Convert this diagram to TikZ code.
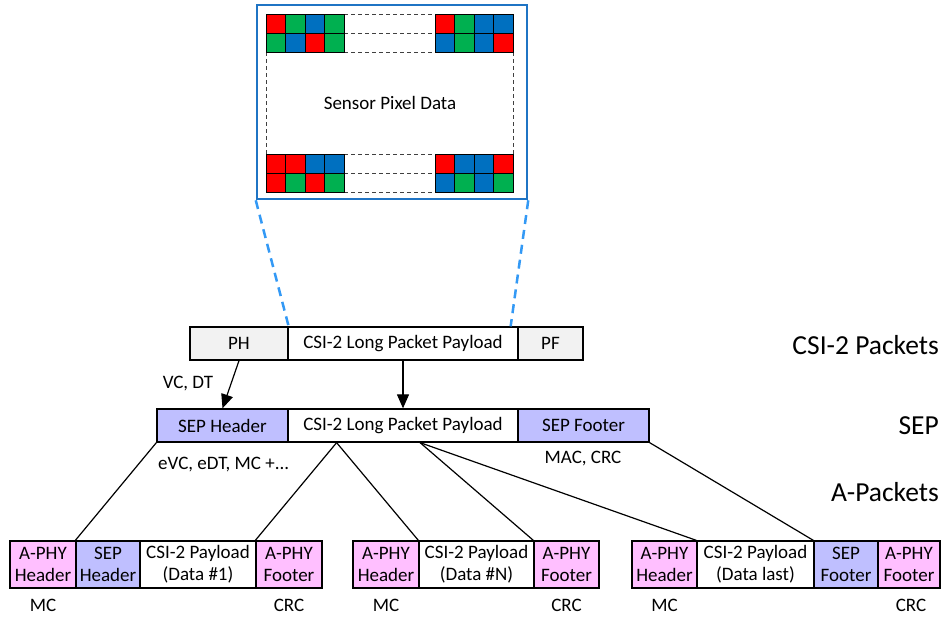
\documentclass[tikz,border=0pt]{standalone}
\usepackage{fontspec}
\setmainfont{Carlito}
\usetikzlibrary{arrows.meta,calc}
\definecolor{pxred}{HTML}{FF0000}
\definecolor{pxgreen}{HTML}{00B050}
\definecolor{pxblue}{HTML}{0070C0}
\definecolor{framec}{HTML}{1F74C4}
\definecolor{zoomc}{HTML}{3399F5}
\definecolor{greyc}{HTML}{F2F2F2}
\definecolor{sepc}{HTML}{BFBFFF}
\definecolor{aphyc}{HTML}{FFBFFF}
% one row of four Bayer cells: x, y, colours
\newcommand\bayerrow[3]{%
  \foreach \c [count=\i from 0] in {#3}
    \draw[fill=\c, line width=0.9pt] (#1+19.5*\i,#2) rectangle ++(19.5,19);}
\begin{document}
\begin{tikzpicture}[x=1pt,y=-1pt,
  cell/.style={draw, line width=1.3pt, inner sep=0pt, align=center,
    minimum height=33pt, font=\fontsize{19}{22}\selectfont},
  apk/.style={cell, minimum height=47pt},
  lbl/.style={inner sep=0pt, font=\fontsize{19}{22}\selectfont},
  layer/.style={inner sep=0pt, anchor=east, font=\fontsize{27.5}{32}\selectfont},
  link/.style={line width=1.2pt},
  feed/.style={line width=1.2pt, -{Triangle[length=14pt,width=12pt]}},
  zoomline/.style={zoomc, line width=2.5pt, dash pattern=on 9pt off 6pt},
  gridline/.style={black!75, line width=0.8pt, dash pattern=on 4pt off 3pt}]
\useasboundingbox (0,0) rectangle (942,616);

% sensor frame with corner pixel tiles
\node[draw=framec, line width=2.5pt, minimum width=270pt, minimum height=194pt,
  inner sep=0pt] (frame) at (392,102) {};
\foreach \y in {14,33,52,154,173,192}
  \draw[gridline] (344,\y) -- (435,\y);
\draw[gridline] (266,52) -- (266,154);
\draw[gridline] (513,52) -- (513,154);
\bayerrow{266}{14}{pxred,pxgreen,pxblue,pxgreen}
\bayerrow{266}{33}{pxgreen,pxblue,pxred,pxgreen}
\bayerrow{435}{14}{pxred,pxgreen,pxblue,pxblue}
\bayerrow{435}{33}{pxblue,pxgreen,pxblue,pxred}
\bayerrow{266}{154}{pxred,pxred,pxblue,pxblue}
\bayerrow{266}{173}{pxred,pxgreen,pxred,pxgreen}
\bayerrow{435}{154}{pxred,pxblue,pxblue,pxred}
\bayerrow{435}{173}{pxblue,pxgreen,pxblue,pxgreen}
\node[lbl] (spd) at (390,103) {Sensor Pixel Data};

% CSI-2 packet
\node[cell, fill=greyc, minimum width=98pt] (ph) at (239,343.5) {PH};
\node[cell, fill=white, minimum width=230pt] (cp) at (403,343.5) {CSI-2 Long Packet Payload};
\node[cell, fill=greyc, minimum width=65pt] (pf) at (550.5,343.5) {PF};

% SEP packet
\node[cell, fill=sepc, minimum width=131pt] (sh) at (222.5,425.5) {SEP Header};
\node[cell, fill=white, minimum width=230pt] (sp) at (403,425.5) {CSI-2 Long Packet Payload};
\node[cell, fill=sepc, minimum width=131pt] (sf) at (583.5,425.5) {SEP Footer};

% A-packets
\node[apk, fill=aphyc, minimum width=66pt] (g1a) at (43,564.5) {A-PHY\\Header};
\node[apk, fill=sepc, minimum width=64pt] (g1b) at (108,564.5) {SEP\\Header};
\node[apk, fill=white, minimum width=116pt] (g1c) at (198,564.5) {CSI-2 Payload\\(Data \#1)};
\node[apk, fill=aphyc, minimum width=66pt] (g1d) at (289,564.5) {A-PHY\\Footer};

\node[apk, fill=aphyc, minimum width=66pt] (g2a) at (386,564.5) {A-PHY\\Header};
\node[apk, fill=white, minimum width=115pt] (g2b) at (476.5,564.5) {CSI-2 Payload\\(Data \#N)};
\node[apk, fill=aphyc, minimum width=65pt] (g2c) at (566.5,564.5) {A-PHY\\Footer};

\node[apk, fill=aphyc, minimum width=65pt] (g3a) at (664.5,564.5) {A-PHY\\Header};
\node[apk, fill=white, minimum width=117pt] (g3b) at (755.5,564.5) {CSI-2 Payload\\(Data last)};
\node[apk, fill=sepc, minimum width=64pt] (g3c) at (846,564.5) {SEP\\Footer};
\node[apk, fill=aphyc, minimum width=62pt] (g3d) at (909,564.5) {A-PHY\\Footer};

% zoom lines from the frame to the payload
\coordinate (zoomR) at ($(cp.north east)+(-8,0)$);
\draw[zoomline] (frame.south west) -- (ph.north east);
\draw[zoomline] (frame.south east) -- (zoomR);

% CSI-2 to SEP
\draw[feed] (ph.south) -- (sh.north);
\draw[feed] (cp.south) -- (sp.north);

% SEP to A-packets
\coordinate (tapA) at ($(sp.south west)!0.213!(sp.south east)$);
\coordinate (tapB) at ($(sp.south west)!0.574!(sp.south east)$);
\draw[link] (sh.south west) -- (g1b.north west);
\draw[link] (tapA) -- (g1d.north west);
\draw[link] (tapA) -- (g2b.north west);
\draw[link] (tapB) -- (g2c.north west);
\draw[link] (tapB) -- (g3b.north west);
\draw[link] (sf.south east) -- (g3c.north west);

% field annotations
\node[lbl] (vcdt) at (188,384) {VC, DT};
\node[lbl, anchor=west] (evc) at (158,465) {eVC, eDT, MC +...};
\node[lbl] (maccrc) at (583,459) {MAC, CRC};
\node[lbl] (mc1) at (43,605.5) {MC};
\node[lbl] (crc1) at (289,605.5) {CRC};
\node[lbl] (mc2) at (386,605.5) {MC};
\node[lbl] (crc2) at (566.5,605.5) {CRC};
\node[lbl] (mc3) at (664.5,605.5) {MC};
\node[lbl] (crc3) at (911,605.5) {CRC};

% layer names
\node[layer] (lcsi) at (939,345) {CSI-2 Packets};
\node[layer] (lsep) at (939,426) {SEP};
\node[layer] (lap) at (939,492) {A-Packets};
\end{tikzpicture}
\end{document}
